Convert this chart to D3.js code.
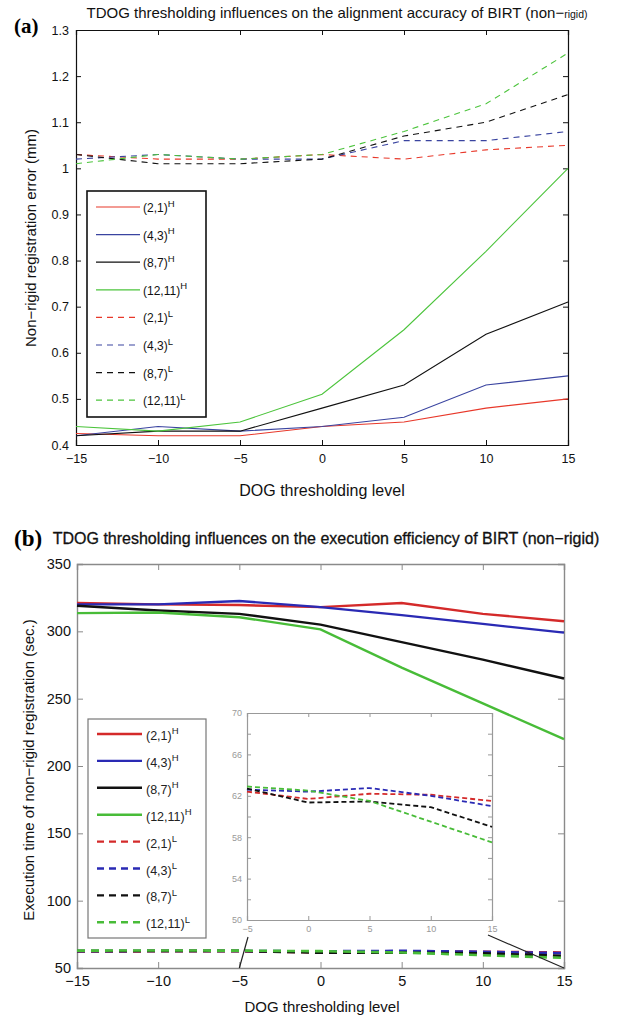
<!DOCTYPE html>
<html>
<head>
<meta charset="utf-8">
<script src="https://cdn.jsdelivr.net/npm/d3@7"></script>
<style>
  body { margin: 0; background: #fff; }
  svg { display: block; font-family: "Liberation Sans", Arial, sans-serif; }
</style>
</head>
<body>
<div id="svg-container"></div>
<script>
const Width = 623;
const Height = 1019;

// data
const levels = [-15, -10, -5, 0, 5, 10, 15];
const pairs = ["(2,1)", "(4,3)", "(8,7)", "(12,11)"];
const colorsA = ["#e8382a", "#3a44a0", "#111111", "#4cc43c"];
const colorsB = ["#d42a2a", "#2a2ab4", "#111111", "#48bc38"];

// (a) alignment error (mm)
const errH = [
    [0.425, 0.42, 0.42, 0.44, 0.45, 0.48, 0.50],
    [0.42, 0.44, 0.43, 0.44, 0.46, 0.53, 0.55],
    [0.42, 0.43, 0.43, 0.48, 0.53, 0.64, 0.71],
    [0.44, 0.43, 0.45, 0.51, 0.65, 0.82, 1.00]
];
const errL = [
    [1.03, 1.02, 1.02, 1.03, 1.02, 1.04, 1.05],
    [1.02, 1.03, 1.02, 1.02, 1.06, 1.06, 1.08],
    [1.03, 1.01, 1.01, 1.02, 1.07, 1.10, 1.16],
    [1.01, 1.03, 1.02, 1.03, 1.08, 1.14, 1.25]
];
const errTicksY = [0.4, 0.5, 0.6, 0.7, 0.8, 0.9, 1, 1.1, 1.2, 1.3];

// (b) execution time (sec.)
const timeH = [
    [321, 320, 319.5, 318, 321, 313, 307.5],
    [320, 320, 322.5, 318, 312, 305.5, 299],
    [319, 315.5, 313, 305, 292, 279, 265],
    [313.5, 314, 310.5, 301.5, 273, 246.5, 220]
];
const timeL = [
    [62.3, 62.4, 62.4, 61.7, 62.2, 62.1, 61.5],
    [62.5, 62.6, 62.6, 62.4, 62.75, 62.0, 61.0],
    [62.6, 62.7, 62.7, 61.35, 61.45, 60.9, 59.0],
    [62.9, 63.0, 62.9, 62.5, 61.5, 59.5, 57.5]
];
const timeTicksY = [50, 100, 150, 200, 250, 300, 350];
const insetLevels = [-5, 0, 5, 10, 15];
const insetTicksY = [50, 54, 58, 62, 66, 70];

const svg = d3.select("#svg-container").append("svg").attr("width", Width).attr("height", Height);

function legendLabel(sel, name, sup, size, supSize) {
    sel.append("tspan").text(name).style("font-size", size + "px");
    sel.append("tspan").text(sup).attr("dy", -size * 0.45).style("font-size", supSize + "px");
}

// ---------------- (a) ----------------
const xa = d3.scaleLinear().domain([-15, 15]).range([76, 568]);
const ya = d3.scaleLinear().domain([0.4, 1.3]).range([445, 30]);

const ga = svg.append("g");

ga.append("g").attr("transform", "translate(0,445)")
    .call(d3.axisBottom(xa).tickValues(levels).tickSize(-5).tickPadding(9))
    .call(g => g.selectAll("text").style("font-size", "12.5px").attr("fill", "#111"));
ga.append("g").attr("transform", "translate(0,30)")
    .call(d3.axisTop(xa).tickValues(levels).tickSize(-5).tickFormat(""));
ga.append("g").attr("transform", "translate(76,0)")
    .call(d3.axisLeft(ya).tickValues(errTicksY).tickSize(-5).tickPadding(7).tickFormat(d3.format("")))
    .call(g => g.selectAll("text").style("font-size", "12.5px").attr("fill", "#111"));
ga.append("g").attr("transform", "translate(568,0)")
    .call(d3.axisRight(ya).tickValues(errTicksY).tickSize(-5).tickFormat(""));
ga.selectAll(".domain").attr("stroke", "#111").attr("stroke-width", 1.2);
ga.selectAll(".tick line").attr("stroke", "#111");

const lineA = (vals) => d3.line().x((d, i) => xa(levels[i])).y(d => ya(d))(vals);

errL.forEach((vals, k) => {
    ga.append("path").attr("d", lineA(vals)).attr("fill", "none")
        .attr("stroke", colorsA[k]).attr("stroke-width", 1.1).attr("stroke-dasharray", "6,5");
});
errH.forEach((vals, k) => {
    ga.append("path").attr("d", lineA(vals)).attr("fill", "none")
        .attr("stroke", colorsA[k]).attr("stroke-width", 1.1);
});

// legend (a)
const legA = ga.append("g");
legA.append("rect").attr("x", 87).attr("y", 191).attr("width", 119).attr("height", 226)
    .attr("fill", "#fff").attr("stroke", "#111").attr("stroke-width", 1.6);
const legItemsA = pairs.map((p, k) => ({ name: p, sup: "H", color: colorsA[k], dash: null }))
    .concat(pairs.map((p, k) => ({ name: p, sup: "L", color: colorsA[k], dash: "6,5" })));
legItemsA.forEach((it, i) => {
    const y = 207 + i * 27.6;
    legA.append("line").attr("x1", 96).attr("x2", 140).attr("y1", y).attr("y2", y)
        .attr("stroke", it.color).attr("stroke-width", 1.2).attr("stroke-dasharray", it.dash);
    legendLabel(legA.append("text").attr("x", 143).attr("y", y + 5).attr("fill", "#111"), it.name, it.sup, 12, 9.5);
});

// titles (a)
svg.append("text").attr("x", 14).attr("y", 33).text("(a)")
    .style("font-family", "'Liberation Serif', serif").style("font-weight", "bold").style("font-size", "21px");
const titleA = svg.append("text").attr("x", 337).attr("y", 18).attr("text-anchor", "middle")
    .style("font-size", "15px").attr("fill", "#111");
titleA.append("tspan").text("TDOG thresholding influences on the alignment accuracy of BIRT (non\u2212");
titleA.append("tspan").text("rigid)").style("font-size", "10.5px");
svg.append("text").attr("x", 322).attr("y", 496).attr("text-anchor", "middle")
    .style("font-size", "16px").attr("fill", "#111").text("DOG thresholding level");
svg.append("text").attr("transform", "translate(36,238) rotate(-90)").attr("text-anchor", "middle")
    .style("font-size", "15px").attr("fill", "#111").text("Non\u2212rigid registration error (mm)");

// ---------------- (b) ----------------
const xb = d3.scaleLinear().domain([-15, 15]).range([77, 564]);
const yb = d3.scaleLinear().domain([50, 350]).range([968, 564]);

const gb = svg.append("g");
gb.append("g").attr("transform", "translate(0,968)")
    .call(d3.axisBottom(xb).tickValues(levels).tickSize(-6).tickPadding(8))
    .call(g => g.selectAll("text").style("font-size", "14.5px").attr("fill", "#111"));
gb.append("g").attr("transform", "translate(0,564)")
    .call(d3.axisTop(xb).tickValues(levels).tickSize(-6).tickFormat(""));
gb.append("g").attr("transform", "translate(77,0)")
    .call(d3.axisLeft(yb).tickValues(timeTicksY).tickSize(-6).tickPadding(6))
    .call(g => g.selectAll("text").style("font-size", "14.5px").attr("fill", "#111"));
gb.append("g").attr("transform", "translate(564,0)")
    .call(d3.axisRight(yb).tickValues(timeTicksY).tickSize(-6).tickFormat(""));
gb.selectAll(".domain").attr("stroke", "#8a8a8a").attr("stroke-width", 1.4);
gb.selectAll(".tick line").attr("stroke", "#8a8a8a");

const lineB = (vals) => d3.line().x((d, i) => xb(levels[i])).y(d => yb(d))(vals);
timeL.forEach((vals, k) => {
    gb.append("path").attr("d", lineB(vals)).attr("fill", "none")
        .attr("stroke", colorsB[k]).attr("stroke-width", 2.6).attr("stroke-dasharray", "8,6");
});
timeH.forEach((vals, k) => {
    gb.append("path").attr("d", lineB(vals)).attr("fill", "none")
        .attr("stroke", colorsB[k]).attr("stroke-width", 2.4);
});

// legend (b)
const legB = gb.append("g");
legB.append("rect").attr("x", 88).attr("y", 719).attr("width", 118).attr("height", 219)
    .attr("fill", "#fff").attr("stroke", "#777").attr("stroke-width", 1.2);
const legItemsB = pairs.map((p, k) => ({ name: p, sup: "H", color: colorsB[k], dash: null }))
    .concat(pairs.map((p, k) => ({ name: p, sup: "L", color: colorsB[k], dash: "7,5" })));
legItemsB.forEach((it, i) => {
    const y = 734 + i * 26.9;
    legB.append("line").attr("x1", 97).attr("x2", 142).attr("y1", y).attr("y2", y)
        .attr("stroke", it.color).attr("stroke-width", 2.4).attr("stroke-dasharray", it.dash);
    legendLabel(legB.append("text").attr("x", 146).attr("y", y + 6).attr("fill", "#222"), it.name, it.sup, 12.5, 9.5);
});

// inset
const xi = d3.scaleLinear().domain([-5, 15]).range([247, 492]);
const yi = d3.scaleLinear().domain([50, 70]).range([920, 713]);
const gi = gb.append("g");
gi.append("rect").attr("x", 247).attr("y", 713).attr("width", 245).attr("height", 207)
    .attr("fill", "#fff");
gi.append("g").attr("transform", "translate(0,920)")
    .call(d3.axisBottom(xi).tickValues(insetLevels).tickSize(-4).tickPadding(6))
    .call(g => g.selectAll("text").style("font-size", "9px").attr("fill", "#999"));
gi.append("g").attr("transform", "translate(0,713)")
    .call(d3.axisTop(xi).tickValues(insetLevels).tickSize(-4).tickFormat(""));
gi.append("g").attr("transform", "translate(247,0)")
    .call(d3.axisLeft(yi).ticks(10).tickSize(-4).tickPadding(5)
        .tickFormat(d => insetTicksY.includes(d) ? d : ""))
    .call(g => g.selectAll("text").style("font-size", "9px").attr("fill", "#999"));
gi.append("g").attr("transform", "translate(492,0)")
    .call(d3.axisRight(yi).ticks(10).tickSize(-4).tickFormat(""));
gi.selectAll(".domain").attr("stroke", "#999").attr("stroke-width", 1.2);
gi.selectAll(".tick line").attr("stroke", "#999");

timeL.forEach((vals, k) => {
    const pts = levels.map((lv, i) => [lv, vals[i]]).filter(p => p[0] >= -5);
    gi.append("path")
        .attr("d", d3.line().x(p => xi(p[0])).y(p => yi(p[1]))(pts))
        .attr("fill", "none").attr("stroke", colorsB[k]).attr("stroke-width", 1.8)
        .attr("stroke-dasharray", "5,3");
});

// zoom connector lines
gb.append("line").attr("x1", xi(-5) + 1).attr("y1", yi(50) + 17).attr("x2", xb(-5)).attr("y2", yb(50))
    .attr("stroke", "#222").attr("stroke-width", 1.2);
gb.append("line").attr("x1", xi(15) - 4).attr("y1", yi(50) + 15).attr("x2", xb(15)).attr("y2", yb(50))
    .attr("stroke", "#222").attr("stroke-width", 1.2);

// titles (b)
svg.append("text").attr("x", 14).attr("y", 546).text("(b)")
    .style("font-family", "'Liberation Serif', serif").style("font-weight", "bold").style("font-size", "23px");
svg.append("text").attr("x", 326).attr("y", 544).attr("text-anchor", "middle")
    .style("font-size", "16px").attr("fill", "#111").attr("stroke", "#111").attr("stroke-width", 0.3)
    .text("TDOG thresholding influences on the execution efficiency of BIRT (non\u2212rigid)");
svg.append("text").attr("x", 322).attr("y", 1012).attr("text-anchor", "middle")
    .style("font-size", "15px").attr("fill", "#111").text("DOG thresholding level");
svg.append("text").attr("transform", "translate(34,770) rotate(-90)").attr("text-anchor", "middle")
    .style("font-size", "15px").attr("fill", "#111").text("Execution time of non\u2212rigid registration (sec.)");
</script>
</body>
</html>
